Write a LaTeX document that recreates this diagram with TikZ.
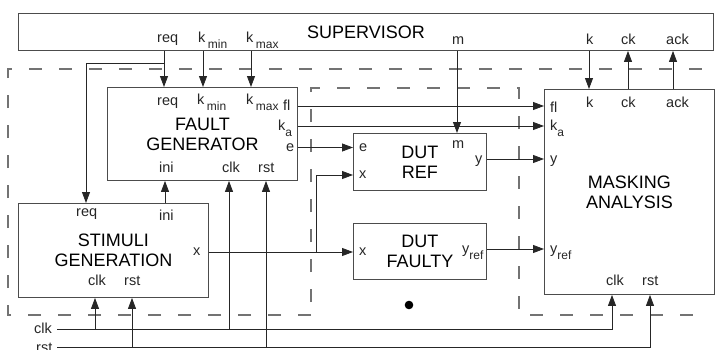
\documentclass[tikz,border=0pt]{standalone}
\usepackage{fontspec}
\setmainfont{Liberation Sans}
\usetikzlibrary{arrows.meta}
\newcommand{\portsub}[1]{\raisebox{-6pt}{\fontsize{12}{12}\selectfont #1}}

\begin{document}
\begin{tikzpicture}[x=1pt,y=-1pt,
box/.style={draw=black!70,line width=0.9pt,anchor=north west,inner sep=0,align=center,font=\fontsize{18}{20}\selectfont},
lbl/.style={anchor=base west,inner sep=0,font=\fontsize{14.5}{16}\selectfont,text=black!85},
arr/.style={-{Triangle[length=11pt,width=8pt]},draw=black!85,line width=0.8pt},
region/.style={draw=black!55,line width=1.1pt,dash pattern=on 13pt off 17pt}]
\useasboundingbox (0,0) rectangle (715,349);

% dashed regions
\draw[region] (311,315) -- (8,315) -- (8,69) -- (703,69);
\draw[region] (311,302) -- (311,88) -- (519,88) -- (519,315) -- (703,315);

% blocks
\node[box,minimum width=695pt,minimum height=37pt] (sup) at (18,13) {SUPERVISOR};
\node[box,minimum width=190pt,minimum height=93pt] (fg) at (107,87) {FAULT\\GENERATOR};
\node[box,minimum width=190pt,minimum height=94pt] (stim) at (18,203) {STIMULI\\GENERATION};
\node[box,minimum width=133pt,minimum height=57pt] (ref) at (353,133) {DUT\\REF};
\node[box,minimum width=133pt,minimum height=56pt] (faulty) at (353,223) {DUT\\FAULTY};
\node[box,minimum width=170pt,minimum height=205pt] (mask) at (544,89) {MASKING\\ANALYSIS};
\node[circle,fill=black,inner sep=0,minimum size=8.6pt] (dot) at (409,305) {};

% port labels
\node[lbl] (sup-req) at (157,42) {req};
\node[lbl] (sup-kmin) at (198,42) {k\,\portsub{min}};
\node[lbl] (sup-kmax) at (246,42) {k\,\portsub{max}};
\node[lbl] (sup-m) at (452,44) {m};
\node[lbl] (sup-k) at (586,44) {k};
\node[lbl] (sup-ck) at (621,44) {ck};
\node[lbl] (sup-ack) at (666,44) {ack};

\node[lbl] (fg-req) at (157,105) {req};
\node[lbl] (fg-kmin) at (197,104) {k\,\portsub{min}};
\node[lbl] (fg-kmax) at (246,104) {k\,\portsub{max}};
\node[lbl] (fg-fl) at (283,110) {fl};
\node[lbl] (fg-ka) at (278,130) {k\portsub{a}};
\node[lbl] (fg-e) at (286,151) {e};
\node[lbl] (fg-ini) at (159,172) {ini};
\node[lbl] (fg-clk) at (222,172) {clk};
\node[lbl] (fg-rst) at (258,172) {rst};

\node[lbl] (ref-e) at (359,151) {e};
\node[lbl] (ref-x) at (359,178) {x};
\node[lbl] (ref-m) at (452,148) {m};
\node[lbl] (ref-y) at (475,163) {y};
\node[lbl] (faulty-x) at (359,255) {x};
\node[lbl] (faulty-y) at (462,253) {y\portsub{ref}};

\node[lbl] (mask-fl) at (550,112) {fl};
\node[lbl] (mask-ka) at (550,130) {k\portsub{a}};
\node[lbl] (mask-y) at (550,163) {y};
\node[lbl] (mask-k) at (586,107) {k};
\node[lbl] (mask-ck) at (621,107) {ck};
\node[lbl] (mask-ack) at (666,107) {ack};
\node[lbl] (mask-yref) at (550,253) {y\portsub{ref}};
\node[lbl] (mask-clk) at (606,285) {clk};
\node[lbl] (mask-rst) at (642,285) {rst};

\node[lbl] (stim-req) at (76,216) {req};
\node[lbl] (stim-ini) at (159,220) {ini};
\node[lbl] (stim-x) at (193,255) {x};
\node[lbl] (stim-clk) at (88,285) {clk};
\node[lbl] (stim-rst) at (124,285) {rst};

\node[lbl] (in-clk) at (34,333) {clk};
\node[lbl] (in-rst) at (36,352) {rst};

% wire positions
\coordinate (p-req) at (164,63);
\coordinate (p-sreq) at (86,63);
\coordinate (p-kmin) at (203,0);
\coordinate (p-kmax) at (251,0);
\coordinate (p-m) at (457,0);
\coordinate (p-k) at (589,0);
\coordinate (p-ck) at (628,0);
\coordinate (p-ack) at (673,0);
\coordinate (p-ini) at (165,0);
\coordinate (p-fl) at (0,106);
\coordinate (p-ka) at (0,126);
\coordinate (p-e) at (0,147.5);
\coordinate (p-y) at (0,159);
\coordinate (p-yref) at (0,249);
\coordinate (p-x) at (316,252);
\coordinate (p-xr) at (316,175);
\coordinate (p-clk) at (57,329);
\coordinate (p-rst) at (57,347);
\coordinate (p-sclk) at (95,0);
\coordinate (p-srst) at (132,0);
\coordinate (p-fclk) at (229,0);
\coordinate (p-frst) at (266,0);
\coordinate (p-mclk) at (612,0);
\coordinate (p-mrst) at (650,0);

% supervisor links
\draw[arr] (sup.south -| p-req) -- (fg.north -| p-req);
\draw[arr] (p-req) -- (p-sreq) -- (stim.north -| p-sreq);
\draw[arr] (sup.south -| p-kmin) -- (fg.north -| p-kmin);
\draw[arr] (sup.south -| p-kmax) -- (fg.north -| p-kmax);
\draw[arr] (sup.south -| p-m) -- (ref.north -| p-m);
\draw[arr] (sup.south -| p-k) -- (mask.north -| p-k);
\draw[arr] (mask.north -| p-ck) -- (sup.south -| p-ck);
\draw[arr] (mask.north -| p-ack) -- (sup.south -| p-ack);

% data links
\draw[arr] (stim.north -| p-ini) -- (fg.south -| p-ini);
\draw[arr] (fg.east |- p-fl) -- (mask.west |- p-fl);
\draw[arr] (fg.east |- p-ka) -- (mask.west |- p-ka);
\draw[arr] (fg.east |- p-e) -- (ref.west |- p-e);
\draw[arr] (stim.east |- p-x) -- (faulty.west |- p-x);
\draw[arr] (p-x) -- (p-xr) -- (ref.west |- p-xr);
\draw[arr] (ref.east |- p-y) -- (mask.west |- p-y);
\draw[arr] (faulty.east |- p-yref) -- (mask.west |- p-yref);

% clock and reset
\draw[arr] (p-clk) -| (mask.south -| p-mclk);
\draw[arr] (p-clk -| p-sclk) -- (stim.south -| p-sclk);
\draw[arr] (p-clk -| p-fclk) -- (fg.south -| p-fclk);
\draw[arr] (p-rst) -| (mask.south -| p-mrst);
\draw[arr] (p-rst -| p-srst) -- (stim.south -| p-srst);
\draw[arr] (p-rst -| p-frst) -- (fg.south -| p-frst);
\end{tikzpicture}
\end{document}
